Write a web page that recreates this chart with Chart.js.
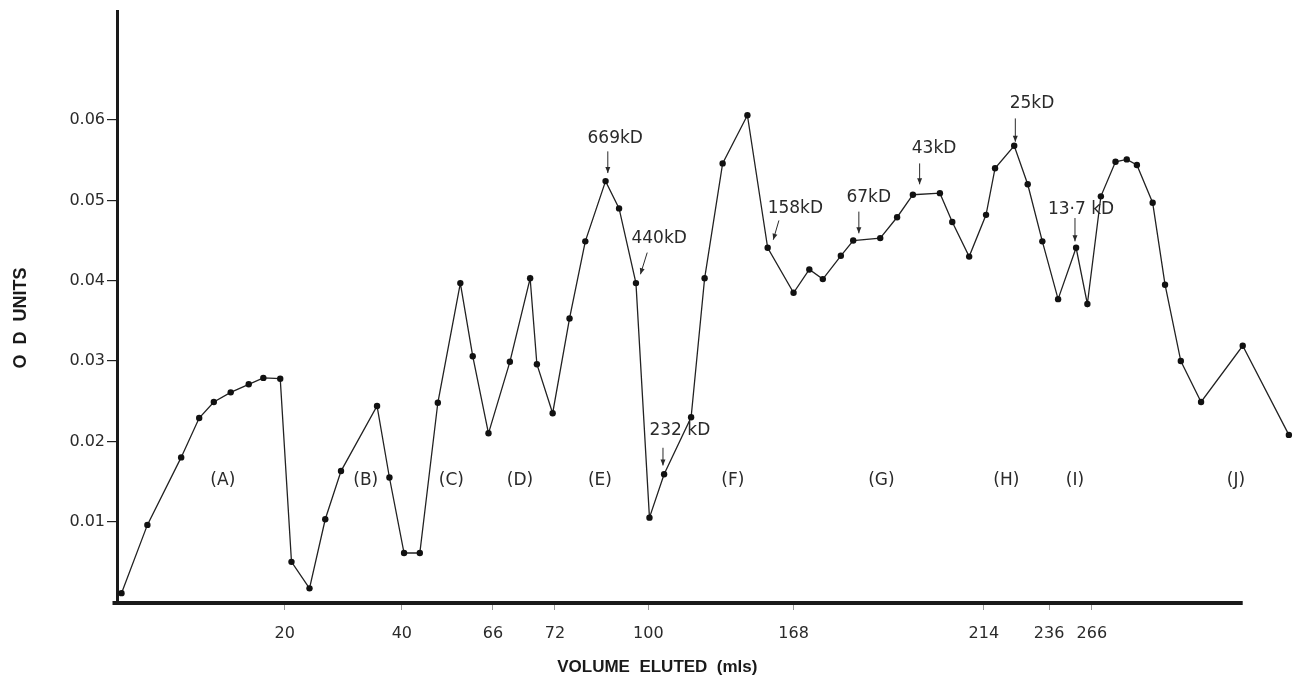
<!DOCTYPE html>
<html>
<head>
<meta charset="utf-8">
<title>Elution profile</title>
<script src="https://cdn.jsdelivr.net/npm/chart.js@4.4.0/dist/chart.umd.min.js"></script>
<style>
  html, body { margin: 0; padding: 0; background: #fff; }
  #wrap { width: 1304px; height: 694px; }
</style>
</head>
<body>
<div id="wrap"><canvas id="elutionChart" width="1304" height="694"></canvas></div>
<script>
// Elution profile - OD units against volume eluted

// Point positions along the x axis (axis length = 100 units)
const volumePos = [0.4, 2.7, 5.7, 7.3, 8.6, 10.1, 11.7, 13.0, 14.5, 15.5, 17.1, 18.5, 19.9,
    23.1, 24.2, 25.5, 26.9, 28.5, 30.5, 31.6, 33.0, 34.9, 36.7, 37.3, 38.7, 40.2, 41.6,
    43.4, 44.6, 46.1, 47.3, 48.6, 51.0, 52.2, 53.8, 56.0, 57.8, 60.1, 61.5, 62.7, 64.3,
    65.4, 67.8, 69.3, 70.7, 73.1, 74.2, 75.7, 77.2, 78.0, 79.7, 80.9, 82.2, 83.6, 85.2,
    86.2, 87.4, 88.7, 89.7, 90.6, 92.0, 93.1, 94.5, 96.3, 100.0, 104.1];

// OD readings
const odValues = [0.0011, 0.0096, 0.0180, 0.0229, 0.0249, 0.0261, 0.0271, 0.0279, 0.0278,
    0.0050, 0.0017, 0.0103, 0.0163, 0.0244, 0.0155, 0.0061, 0.0061, 0.0248, 0.0397, 0.0306,
    0.0210, 0.0299, 0.0403, 0.0296, 0.0235, 0.0353, 0.0449, 0.0524, 0.0490, 0.0397, 0.0105,
    0.0159, 0.0230, 0.0403, 0.0546, 0.0606, 0.0441, 0.0385, 0.0414, 0.0402, 0.0431, 0.0450,
    0.0453, 0.0479, 0.0507, 0.0509, 0.0473, 0.0430, 0.0482, 0.0540, 0.0568, 0.0520, 0.0449,
    0.0377, 0.0441, 0.0371, 0.0505, 0.0548, 0.0551, 0.0544, 0.0497, 0.0395, 0.0300, 0.0249,
    0.0319, 0.0208];

// Volume tick marks (non-linear labels)
const volumeTickPos = [14.9, 25.3, 33.4, 38.9, 47.2, 60.1, 77.0, 82.8, 86.6];
const volumeTickLabels = ['20', '40', '66', '72', '100', '168', '214', '236', '266'];
const odTicks = [0.01, 0.02, 0.03, 0.04, 0.05, 0.06];

// Pooled fractions
const regionLabels = ['(A)', '(B)', '(C)', '(D)', '(E)', '(F)', '(G)', '(H)', '(I)', '(J)'];
const regionPos = [9.4, 22.1, 29.7, 35.8, 42.9, 54.7, 67.9, 79.0, 85.1, 99.4];
const regionOd = 0.0151;

// Molecular weight markers
const markerLabels = ['669kD', '440kD', '232 kD', '158kD', '67kD', '43kD', '25kD', '13·7 kD'];
const markerTextPos = [41.8, 45.7, 47.3, 57.8, 64.8, 70.6, 79.3, 82.7];
const markerTextOd = [0.0577, 0.0452, 0.0213, 0.0490, 0.0503, 0.0565, 0.0621, 0.0489];
const arrowFromPos = [43.6, 47.1, 48.5, 58.8, 65.9, 71.3, 79.8, 85.1];
const arrowFromOd = [0.0561, 0.0435, 0.0192, 0.0475, 0.0486, 0.0546, 0.0602, 0.0478];
const arrowToPos = [43.6, 46.5, 48.5, 58.3, 65.9, 71.3, 79.8, 85.1];
const arrowToOd = [0.0534, 0.0408, 0.0170, 0.0451, 0.0459, 0.0520, 0.0573, 0.0449];

const FONT = '"DejaVu Sans", "Liberation Sans", sans-serif';
const INK = '#1a1a1a';

// Draw a small arrow between two pixel points
function drawArrow(ctx, x1, y1, x2, y2) {
    const ang = Math.atan2(y2 - y1, x2 - x1);
    ctx.beginPath();
    ctx.moveTo(x1, y1);
    ctx.lineTo(x2, y2);
    ctx.stroke();
    ctx.beginPath();
    ctx.moveTo(x2, y2);
    ctx.lineTo(x2 - 6 * Math.cos(ang) + 2.5 * Math.sin(ang), y2 - 6 * Math.sin(ang) - 2.5 * Math.cos(ang));
    ctx.lineTo(x2 - 6 * Math.cos(ang) - 2.5 * Math.sin(ang), y2 - 6 * Math.sin(ang) + 2.5 * Math.cos(ang));
    ctx.closePath();
    ctx.fill();
}

// Labels, arrows, x axis line and axis titles
const annotationPlugin = {
    id: 'annotations',
    afterDraw(chart) {
        const ctx = chart.ctx;
        const xs = chart.scales.x;
        const ys = chart.scales.y;
        ctx.save();

        // x axis line stops at the end of the volume range
        ctx.strokeStyle = INK;
        ctx.lineWidth = 4;
        ctx.beginPath();
        ctx.moveTo(xs.getPixelForValue(-0.4), ys.getPixelForValue(0) + 1);
        ctx.lineTo(xs.getPixelForValue(100), ys.getPixelForValue(0) + 1);
        ctx.stroke();

        ctx.fillStyle = '#2a2a2a';
        ctx.font = '17px ' + FONT;
        ctx.textBaseline = 'middle';
        ctx.textAlign = 'center';
        regionLabels.forEach((lbl, i) => {
            ctx.fillText(lbl, xs.getPixelForValue(regionPos[i]), ys.getPixelForValue(regionOd));
        });

        ctx.textAlign = 'left';
        ctx.lineWidth = 1;
        ctx.strokeStyle = '#2a2a2a';
        markerLabels.forEach((lbl, i) => {
            ctx.fillText(lbl, xs.getPixelForValue(markerTextPos[i]), ys.getPixelForValue(markerTextOd[i]));
            drawArrow(ctx,
                xs.getPixelForValue(arrowFromPos[i]), ys.getPixelForValue(arrowFromOd[i]),
                xs.getPixelForValue(arrowToPos[i]), ys.getPixelForValue(arrowToOd[i]));
        });

        // axis titles
        ctx.fillStyle = INK;
        ctx.font = 'bold 17px "Liberation Sans", sans-serif';
        ctx.textAlign = 'center';
        ctx.fillText('VOLUME  ELUTED  (mls)', xs.getPixelForValue(48), 667);
        ctx.font = 'bold 18px "Liberation Sans", sans-serif';
        ctx.translate(21, 318);
        ctx.rotate(-Math.PI / 2);
        ctx.fillText('O  D  UNITS', 0, 0);
        ctx.restore();
    }
};

new Chart(document.getElementById('elutionChart'), {
    type: 'line',
    data: {
        datasets: [{
            data: volumePos.map((v, i) => ({ x: v, y: odValues[i] })),
            borderColor: '#222',
            borderWidth: 1.3,
            pointRadius: 3.2,
            pointBackgroundColor: '#111',
            pointBorderWidth: 0,
            tension: 0
        }]
    },
    options: {
        responsive: false,
        animation: false,
        devicePixelRatio: 1,
        layout: { padding: { top: 10, right: 5, left: 0, bottom: 0 } },
        plugins: {
            legend: { display: false },
            tooltip: { enabled: false }
        },
        scales: {
            x: {
                type: 'linear',
                min: 0,
                max: 105,
                afterFit: s => { s.height = 92; },
                afterBuildTicks: s => { s.ticks = volumeTickPos.map(v => ({ value: v })); },
                border: { display: false },
                grid: { drawOnChartArea: false, tickLength: 8, color: '#999', lineWidth: 1 },
                ticks: {
                    autoSkip: false,
                    maxRotation: 0,
                    padding: 14,
                    color: '#2a2a2a',
                    font: { family: FONT, size: 16 },
                    callback: (v, i) => volumeTickLabels[i]
                }
            },
            y: {
                min: 0,
                max: 0.0735,
                afterFit: s => { s.width = 117; },
                afterBuildTicks: s => { s.ticks = odTicks.map(v => ({ value: v })); },
                border: { display: true, color: INK, width: 3 },
                grid: { drawOnChartArea: false, tickLength: 10, color: '#222', lineWidth: 1.2 },
                ticks: {
                    padding: 2,
                    color: '#2a2a2a',
                    font: { family: FONT, size: 16 },
                    callback: v => v.toFixed(2)
                }
            }
        }
    },
    plugins: [annotationPlugin]
});
</script>
</body>
</html>
